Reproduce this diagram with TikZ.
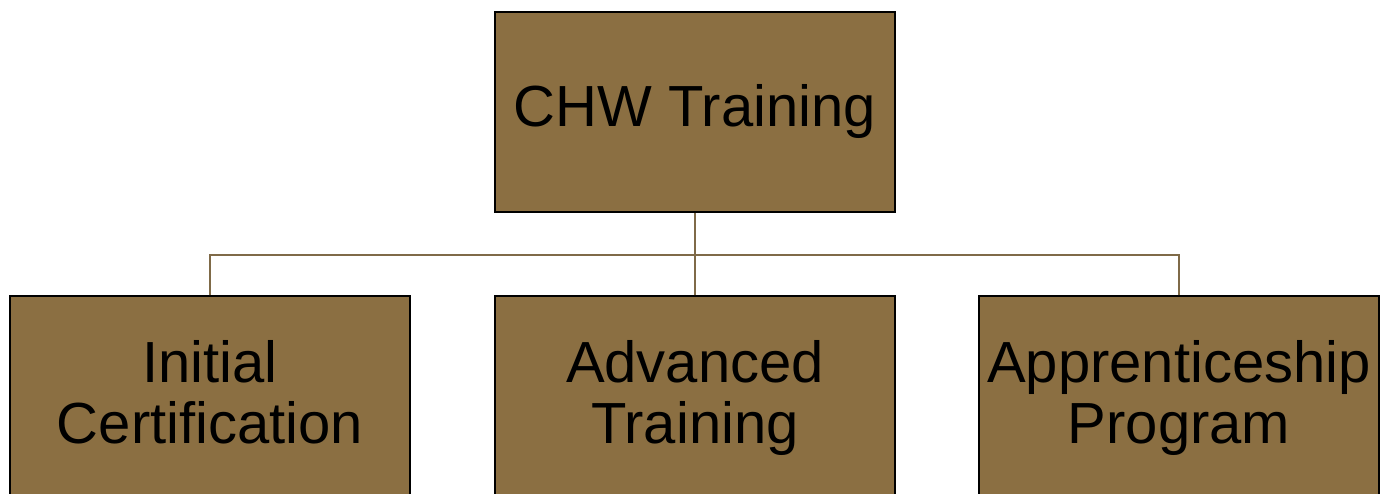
\documentclass[tikz,border=0pt]{standalone}
\usepackage{fontspec}
\setmainfont{Liberation Sans}
\definecolor{boxfill}{HTML}{8B6F42}
\definecolor{linkc}{HTML}{7F6A48}
\begin{document}
\begin{tikzpicture}[x=1pt,y=1pt,
  orgbox/.style={draw=black, line width=1.5pt, fill=boxfill, minimum width=400pt, minimum height=200pt,
    inner sep=0pt, align=center, font=\fontsize{58}{61}\selectfont, text=black},
  link/.style={draw=linkc, line width=1.5pt}]
\useasboundingbox (0,0) rectangle (1381,-493);
\node[orgbox] (top) at (695,-112) {CHW Training};
\node[orgbox, text depth=8pt] (c1) at (210,-396) {Initial\\Certification};
\node[orgbox, text depth=8pt] (c2) at (695,-396) {Advanced\\Training};
\node[orgbox, text depth=8pt] (c3) at (1179,-396) {Apprenticeship\\Program};
\coordinate (bus) at (695,-255);
\draw[link] (top.south) -- (bus);
\draw[link] (c1.north) |- (bus);
\draw[link] (c3.north) |- (bus);
\draw[link] (c2.north) -- (bus);
\end{tikzpicture}
\end{document}
